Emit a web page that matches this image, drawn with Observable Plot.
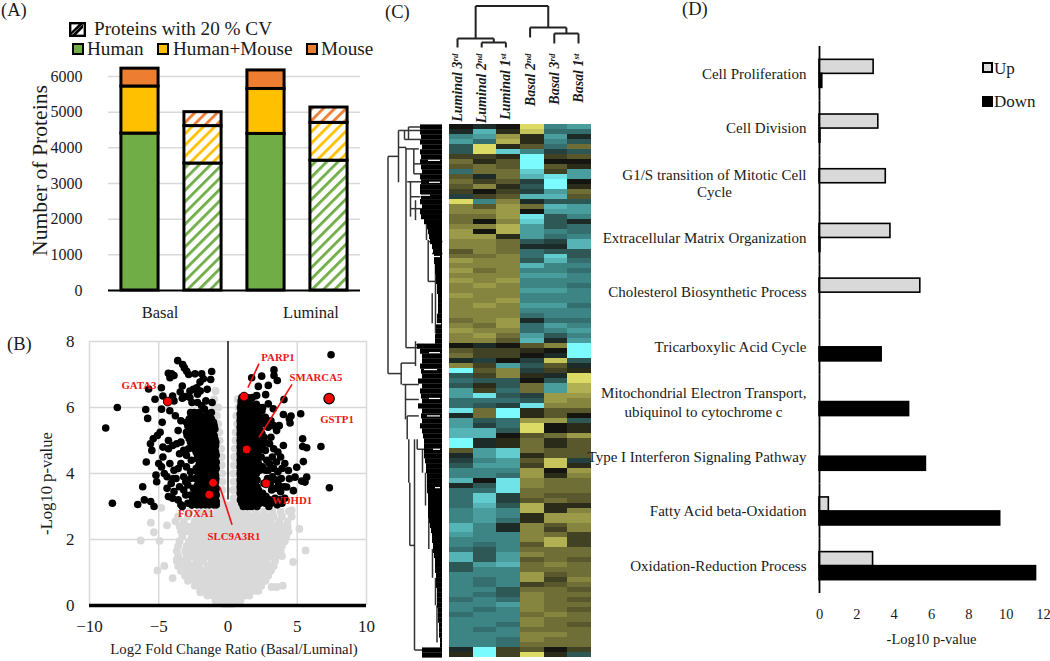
<!DOCTYPE html>
<html><head><meta charset="utf-8">
<script src="https://cdn.jsdelivr.net/npm/d3@7"></script>
<script src="https://cdn.jsdelivr.net/npm/@observablehq/plot@0.6"></script>
<style>
html,body{margin:0;padding:0;background:#fff}
#page{position:relative;width:1050px;height:661px;overflow:hidden;font-family:"Liberation Serif",serif;color:#1a1a1a}
#page svg.layer{position:absolute;left:0;top:0;max-width:none;background:transparent}
.lab{position:absolute;white-space:nowrap;line-height:1;transform:translateY(-50%)}
.sw{position:absolute;box-sizing:border-box;border:2.5px solid #000}
</style></head><body><div id="page"></div>
<script>
const FONT='"Liberation Serif",serif';
// ---------- Panel A ----------
const barNames=["Basal all","Basal CV","Luminal all","Luminal CV"];
const humanValues=[4400,3560,4390,3640];
const humanMouseValues=[1320,1050,1260,1060];
const mouseValues=[500,390,520,430];
const cvFlags=[false,true,false,true];
// ---------- Panel B ----------
const blackScatter=[[7.44,7.6],[6.71,4.82],[7.32,3.57],[-8.83,5.38],[-7.99,6],[-8.35,3.1],[-6.52,3.06],[-6.04,3.2],[-6.16,3.6],[-5.58,3.15],[-5.34,3],[-5.94,5.94],[-5.8,5.67],[-5.73,6.56],[-5.27,6.25],[-4.81,6.6],[-3.63,7.42],[-3.27,7.3],[-3.15,7.2],[-2.98,7.1],[-4.31,7.04],[-4.07,7.02],[-4.19,6.9],[-3.9,6.97],[-2.84,7],[-2.38,7.02],[-1.9,7.02],[-1.18,7.09],[-1.25,6.85],[-1.78,6.87],[-2.02,6.77],[-2.26,6.6],[-3.3,6.65],[-3.45,6.47],[-4,6.35],[-4.7,6.35],[-3.9,6.2],[-3.1,6.33],[-2.75,6.5],[-2.5,6.55],[-2.2,6.4],[-2.75,6.3],[-2,6.5],[-1.6,6.2],[-1.15,6.15],[-1.5,6.55],[-3.3,6.28],[-2.6,6.15],[-2.2,6.15],[-1.9,6.05],[-1.7,5.95],[-1.4,5.8],[-1.35,5.65],[-4.8,5.95],[-4.2,5.9],[-3.8,5.75],[-4.75,5.55],[-3.4,5.6],[-3.6,5.3],[-4.9,5.25],[-5.1,5.15],[-5.4,5.05],[-5.6,4.9],[-5.5,4.7],[-4.3,5],[-4.7,4.8],[-4.3,4.75],[-4,4.85],[-3.7,4.9],[-3.4,4.95],[-3.5,4.6],[-3,4.55],[-4.7,4.5],[-5.9,4.35],[-5,4.3],[-4.8,4.2],[-5.2,3.95],[-5.15,3.75],[-4.6,4],[-4.4,3.9],[-4.2,4.3],[-3.9,4.1],[-3.6,4.15],[-3.4,4.3],[-3.2,3.9],[-3,4.2],[-2.7,4.05],[-4.1,3.7],[-4.4,3.55],[-3.9,3.45],[-3.5,3.6],[-3.2,3.5],[-2.9,3.65],[-4.3,3.3],[-4,3.25],[-3.6,3.2],[-3.4,3.05],[-3.3,3],[-2.9,3.1],[-2.6,3.05],[-3.05,3.35],[-2.7,3.35],[-2.5,3.55],[-2.7,3.85],[-2.65,4.4],[-2.85,4.75],[-3.2,4.7],[-3.75,3.85],[-3.05,3.75],[-2.55,3.2],[-3.95,3.85],
[3.32,7.14],[3.32,6.97],[3.56,6.82],[1.71,6.9],[2.43,6.95],[2.19,6.64],[2.91,6.67],[2.72,6.39],[2.07,6.36],[2.91,6.11],[4.04,6.24],[3.27,5.96],[4,5.79],[4.55,5.74],[4.43,5.66],[4.48,5.53],[5.25,5.81],[3.7,5.45],[3.51,5.3],[5.39,5.05],[5.39,4.82],[5.68,4.78],[4,4.85],[5.44,4.36],[4.96,4.19],[5.68,3.89],[5.32,3.77],[5.56,3.74],[4.84,3.89],[4.36,4.09],[4.43,3.84],[4.72,3.48],[4.24,3.59],[3,4.9],[3.3,4.75],[3.6,4.65],[2.8,4.4],[3.2,4.5],[3.5,4.35],[3.8,4.5],[4.1,4.3],[2.9,4.1],[3.3,4.15],[3.6,4.05],[3.9,4.15],[3.2,3.9],[3.5,3.8],[3.85,3.85],[3.15,3.5],[3.45,3.55],[3.8,3.45],[4.05,3.6],[3,3.2],[3.4,3.25],[3.75,3.2],[4.1,3.25],[2.6,3.7],[2.5,3.4],[3.1,5.1],[2.9,5.4],[2.7,5.7],[3.1,5.6],[2.5,6],[3.3,5.45],[2.85,3.85],[3.05,3.7],[3.65,3.65],[3.0,4.3],[2.65,4.95],[2.75,3.3],[3.55,3.05],[2.95,3.0]];
const blackRows=[[5.85,[-2.7,-2.45,-2.1,-1.2]],[5.75,[-2.65,-2.3,-1.95,-1.55]],[5.65,[-2.8,-2.5,-2.2,-1.9,-1.5,-1.2]],[5.55,[-3,-2.7,-2.35,-2.05,-1.7,-1.35,-1.05]],[5.45,[-2.9,-2.6,-2.3,-2,-1.6,-1.3,-1]],[5.35,[-2.85,-2.55,-2.2,-1.9,-1.55,-1.2,-.95]],[5.25,[-3,-2.7,-2.4,-2.1,-1.8,-1.45,-1.1]],[5.15,[-2.95,-2.6,-2.25,-1.95,-1.65,-1.3,-1]],[5.05,[-2.8,-2.5,-2.2,-1.9,-1.6,-1.25,-.95]],[4.95,[-2.7,-2.4,-2.05,-1.75,-1.45,-1.15,-.88]],[4.85,[-2.6,-2.3,-2,-1.7,-1.4,-1.1,-.9]],[4.75,[-2.45,-2.15,-1.85,-1.55,-1.25,-.95]],[4.65,[-2.3,-2,-1.7,-1.4,-1.15,-.9]],[4.55,[-2.2,-1.9,-1.6,-1.3,-1.05,-.85]],[4.45,[-2.2,-1.85,-1.55,-1.25,-.95]],[4.35,[-2.05,-1.7,-1.4,-1.1,-.85]],[4.25,[-2.1,-1.75,-1.45,-1.15,-.9]],[4.15,[-2.3,-1.95,-1.6,-1.3,-1,-.85]],[4.05,[-2.2,-1.85,-1.55,-1.25,-.95]],[3.95,[-2.15,-1.8,-1.5,-1.2,-.9]],[3.85,[-2.35,-2,-1.7,-1.4,-1.1,-.88]],[3.75,[-2.1,-1.8,-1.5,-1.2,-.9]],[3.65,[-2.2,-1.9,-1.6,-1.3,-.95]],[3.55,[-2.05,-1.75,-1.5,-1.2,-.85]],[3.45,[-2.3,-2,-1.7,-1.45,-1.15,-.9]],[3.35,[-2.15,-1.85,-1.6,-1.3,-1.05,-.85]],[3.25,[-2.4,-2.1,-1.8,-1.5,-1.2,-.92]],[3.15,[-2.5,-2.2,-1.9,-1.6,-1.3,-1,-.85]],[3.05,[-2.6,-2.25,-1.95,-1.65,-1.35,-1.05,-.85]],
[6.3,[1,1.4,1.75]],[6.2,[.95,1.2,1.55]],[6.1,[.95,1.3,1.65,2.05]],[6,[.9,1.15,1.45,1.85,2.25]],[5.9,[.95,1.25,1.6,2,2.45]],[5.8,[.88,1.1,1.4,1.75,2.15]],[5.7,[.9,1.2,1.55,1.9,2.3]],[5.6,[.88,1.05,1.4,1.75,2.15,2.6]],[5.5,[.9,1.25,1.6,2,2.45,2.8]],[5.4,[.88,1.1,1.4,1.75,2.15]],[5.3,[.9,1.2,1.55,1.95,2.35]],[5.2,[.88,1.05,1.35,1.7,2.05,2.45]],[5.1,[.9,1.2,1.5,1.85,2.2,2.6]],[5,[.88,1.05,1.35,1.7,2.1]],[4.9,[.9,1.2,1.5,1.9,2.3]],[4.8,[.88,1.05,1.35,1.7,2.05,2.5]],[4.7,[.9,1.15,1.5,1.85,2.25,2.7]],[4.6,[.88,1.05,1.35,1.7,2.1]],[4.5,[.9,1.2,1.55,1.9,2.4]],[4.4,[.88,1.05,1.35,1.7,2.05]],[4.3,[.9,1.2,1.5,1.85,2.2]],[4.2,[.88,1.05,1.35,1.7,2.1,2.5]],[4.1,[.9,1.2,1.55,1.9,2.3,2.7]],[4,[.88,1.05,1.35,1.7,2.05]],[3.9,[.9,1.2,1.5,1.85]],[3.8,[.88,1.05,1.35,1.7,2.1]],[3.7,[.9,1.2,1.55,1.95]],[3.6,[.88,1.05,1.35,1.7,2.1]],[3.5,[.9,1.2,1.5,1.8,2.2]],[3.4,[.88,1.05,1.35,1.65,2]],[3.3,[.95,1.2,1.5,1.8,2.2,2.6]],[3.2,[.9,1.05,1.35,1.65,2,2.4]],[3.1,[1,1.3,1.6,1.9,2.3,2.7,3.1,3.5,3.9]],[3,[1.1,1.4,1.7,2.1]]];
const greyRows=[[.05,[-.35,-.1,.15,.35]],[.15,[-.9,-.55,-.2,.15,.5,.9]],[.3,[-1.5,-1.1,-.7,-.3,.1,.5,.9,1.25,1.55]],[.45,[-2,-1.6,-1.15,-.75,-.3,.15,.6,1.05,1.5,1.9,2.2]],[.6,[-2.4,-1.9,-1.4,-.9,-.4,.1,.6,1.1,1.6,2,2.4]],[.75,[-2.9,-2.35,-1.8,-1.3,-.8,-.3,.2,.7,1.2,1.7,2.2,2.7]],[.9,[-3.1,-2.6,-2.1,-1.6,-1.1,-.6,-.1,.4,.9,1.4,1.85,2.4,2.9]],[1.05,[-3.4,-2.8,-2.3,-1.8,-1.3,-.8,-.3,.2,.7,1.2,1.7,2.2,2.6,3.1]],[1.2,[-3.6,-3,-2.6,-2.1,-1.5,-1,-.5,0,.5,1,1.5,2,2.5,2.9,3.3]],[1.35,[-3.7,-3.3,-2.9,-2.3,-1.8,-1.2,-.7,-.2,.3,.8,1.3,1.8,2.3,2.8,3.4]],[1.5,[-3.6,-3,-2.5,-2,-1.5,-1,-.5,0,.5,1,1.5,2,2.5,3,3.5]],[1.65,[-3.7,-3.1,-2.6,-2.1,-1.6,-1.1,-.6,-.1,.4,.9,1.4,1.9,2.4,2.9,3.4,3.8]],[1.8,[-3.6,-3,-2.5,-2,-1.5,-1,-.5,0,.5,1,1.5,2,2.5,3,3.5,3.9]],[1.95,[-3.5,-2.8,-2.3,-1.8,-1.3,-.8,-.3,.2,.7,1.2,1.7,2.2,2.7,3.2,3.6,4.1]],[2.1,[-3.3,-2.6,-2.1,-1.6,-1.1,-.6,-.1,.4,.9,1.4,1.9,2.4,2.9,3.4,3.8,4.2]],[2.25,[-3.4,-2.9,-2.4,-1.9,-1.4,-.9,-.4,.1,.6,1.1,1.6,2.1,2.6,3.1,3.6,4.1]],[2.4,[-3.5,-3,-2.6,-2.1,-1.6,-1.1,-.6,-.1,.4,.9,1.4,1.9,2.4,2.9,3.4,3.9,4.3]],[2.55,[-3.2,-2.4,-1.9,-1.4,-.9,-.4,.1,.6,1.1,1.6,2.1,2.6,3.1,3.7,4.3]],[2.7,[-3.6,-2.9,-2.2,-1.7,-1.2,-.7,-.2,.3,.8,1.3,1.8,2.3,2.8,3.3,3.9,4.6]],[2.85,[-2.8,-2,-1.4,-.8,-.4,.1,.5,.9,1.4,2,2.6,3.2,3.8,4.4]],
[3.05,[-.75,-.5,-.2,.2,.55,.8]],[3.25,[-.7,-.45,.4,.7]],[3.5,[-.65,-.4,.35,.68]],[3.75,[-.7,-.4,.4,.7]],[4,[-.7,-.42,.38,.72]],[4.25,[-.72,-.45,.42,.72]],[4.5,[-.7,-.45,.45,.7]],[4.75,[-.68,-.5,.5,.75]],[5,[-.6,.55,.75]],[5.25,[-.62,.55,.7]],[5.5,[-.7,.65]],[5.75,[-.8,.6,.8]],[6,[-.9,-.7,.75]],[6.25,[-1,.7]],[6.5,[-.9]]];
const greyOutliers=[[-6.3,1.97],[-5.35,2.22],[-5.57,2.51],[-4.82,2.96],[-4.94,1.96],[-4.4,2.43],[-5.1,1.06],[-4.6,1.2],[-4,.83],[4.7,1.32],[5.6,1.67],[5.15,2.32],[4.37,2.24],[4.6,2.88],[3.5,.56],[3.95,.6],[3.15,.56],[2.8,.91],[-3.3,2.3],[-3.8,2.55],[-3.7,1.4],[-3.2,1.1],[3.9,1.5],[3.6,1.85],[4.1,2],[-2.6,.8],[-2.2,.65],[-2,.4],[2.4,.7],[2.1,.45]];
const geneNames=["GATA3","PARP1","SMARCA5","GSTP1","WDHD1","FOXA1","SLC9A3R1"];
const geneX=[-4.35,1.16,1.35,7.3,2.75,-1.35,-1.08];
const geneY=[6.18,6.33,4.73,6.27,3.7,3.36,3.72];
const geneLabelX=[-6.43,3.61,6.35,7.87,4.62,-2.31,.43];
const geneLabelY=[6.67,7.52,6.91,5.64,3.18,2.79,2.09];
const geneLeaders=[[2.24,7.33,1.44,6.6],[4.62,6.7,2.24,5.09],[-.58,3.58,.29,2.45]];
// ---------- Panel C ----------
const sampleNames=["Luminal 3rd","Luminal 2nd","Luminal 1st","Basal 2nd","Basal 3rd","Basal 1st"];
const heatRows=[[0,-1,0,9,-5,-6],[-1,-7,1,8,-4,-4],[-5,-6,6,1,-6,-1],[-6,-4,7,1,-5,-3],[-3,9,1,3,-4,4],[-3,9,-8,-5,-2,-3],[2,2,1,-10,2,3],[4,1,3,-10,0,0],[3,4,3,-10,3,1],[-4,4,4,-8,2,-6],[3,-1,4,-7,-9,-6],[4,2,3,-2,-10,0],[3,5,1,-3,-10,1],[2,0,2,-2,-6,4],[-2,2,3,-7,-7,3],[9,-5,5,-1,-3,-3],[5,3,6,4,-7,-6],[5,5,6,0,-6,-6],[4,4,6,-9,-3,-5],
[4,0,5,-8,-3,-1],[5,5,7,-6,-3,-4],[6,0,7,-6,-5,-4],[6,6,1,-6,-4,-5],[5,5,4,-3,-2,-7],[5,5,4,-1,-1,-7],[3,5,4,-4,-3,-3],[4,4,5,-4,-8,-3],[6,5,5,-3,-7,-4],[5,5,5,-7,-5,-5],[6,4,5,-5,-5,-4],[5,5,5,-6,-6,-5],[6,5,6,-5,-5,-5],[5,6,5,-5,-5,-4],[5,5,5,-6,-6,-5],[6,5,5,-5,-5,-5],[5,5,6,-5,-5,-5],[5,6,5,-6,-6,-4],[5,5,5,-5,-5,-5],[5,5,5,-4,-5,-5],[4,5,6,-1,-4,-4],[5,4,6,-4,-6,-5],[6,5,5,-4,-5,-6],[5,6,4,-6,-3,-5],[5,5,3,-7,-1,-6],[0,-1,0,3,5,-10],[3,2,2,1,0,-10],[4,2,2,0,-1,-10],[-1,-2,0,-2,8,-3],[5,2,-6,-3,3,-1],[-10,3,5,-2,2,1],[-3,2,5,1,-1,9],[-4,-3,-3,0,-3,9],[-3,1,-3,4,-6,7],[-6,2,-4,4,-6,7],[-6,-9,-3,-2,6,6],[-4,-4,-4,-3,6,5],[-4,-3,-2,-9,5,5],[-9,4,-10,1,3,3],[-1,4,-10,1,3,0],[-6,-3,-4,6,6,-3],[-6,-2,-4,9,0,1],[-7,-7,-3,9,0,1],[-7,-7,0,3,4,6],
[-10,-1,1,4,1,3],[-10,-1,1,4,1,3],[3,-6,-8,4,3,3],[-1,-6,-8,1,3,3],[-2,-5,-6,3,8,-2],[-3,-6,-6,2,8,1],[-5,-5,-5,6,0,6],[-5,-5,-4,6,1,5],[-7,0,-9,5,4,4],[-1,-3,-9,5,4,4],[-4,-4,-9,4,4,4],[-4,-8,-2,4,3,3],[-4,-8,-2,3,4,3],[-4,-7,-3,7,1,1],[-5,-6,-5,7,1,5],[-5,-6,-5,1,6,6],[-5,-6,-4,1,6,6],[-7,-5,-1,5,3,5],[-7,-5,-1,5,2,5],[-6,-5,-5,5,4,2],[-5,-5,-5,5,7,2],[-5,-4,-5,3,7,2],[-4,-3,-5,4,4,4],[-7,-3,-6,5,4,4],[-7,-3,-6,3,4,3],[-3,-6,-7,4,5,4],[-3,-5,-5,4,4,4],[-5,-5,-5,6,3,4],[-5,-4,-5,6,2,5],[-5,-4,-5,2,3,4],[-5,-5,-3,4,4,3],[-5,-4,-3,5,4,4],[-4,-5,-4,5,4,3],[-5,-5,-6,5,4,4],[-5,-4,-5,5,4,3],[-4,-5,-5,4,5,4],[-5,-5,-5,5,4,4],[-5,-5,-4,5,4,3],[-5,-4,-5,4,4,4],[-5,-5,-5,5,5,4],[-5,-5,-4,5,4,4],[-5,-5,-4,4,4,4],[-1,-10,2,3,0,2],[1,-10,2,9,1,-3]];
const topMerges=[[1,2,5,0,0],[0,1.5,9,0,5],[4,5,14,4,4],[3,4.5,20,10,14],[.75,3.75,41.5,9,20]];
const leafDepth=[22,22,21,22,20,22,21,22,21,20,22,21,22,22,21,22,20,22,21,18,15,14,13,12,10,9,8,8,7,7,6,6,5,5,4,4,4,4,5,5,6,6,7,7,25,22,20,20,22,21,20,24,20,22,21,20,24,20,21,20,22,20,19,18,18,18,18,17,16,16,15,15,15,15,14,14,14,14,14,13,12,11,10,10,9,9,8,7,7,7,6,6,6,5,5,5,5,4,4,4,3,3,3,2,2,20,20];
const leftBranches=[[54.5,6.4,54.5,50],[54.5,6.4,44,6.4],[54.5,50,41,50],[44,1.2,44,11.6],[44,1.2,22,1.2],[34,.5,34,3],[34,.5,22,.5],[38,1.2,38,3],[38,3,22,3],[44,4.6,36.5,4.6],[36.5,4.6,36.5,44.8],[36.5,44.8,25,44.8],[37,4.9,23.7,4.9],[28.7,4.9,28.7,9.9],[28.7,7.9,22,7.9],[28.7,9.9,20.3,9.9],[35.3,11.5,20.3,11.5],[32,11.5,32,18.5],[32,14.5,22,14.5],[32,16.9,18.7,16.9],[27,15.2,27,19.2],[16,19.2,16,23.2],[14.3,23.2,14.3,31.5],[10.3,33.9,10.3,39.9],[7,25.9,7,41.9],[14.3,23.5,0,23.5],[10.5,25.9,0,25.9],[14.3,31.5,7,31.5],[41.3,47.9,41.3,52.2],[41.3,47.9,27,47.9],[40.3,52.2,23.7,52.2],[37,52.2,37,59.2],[37,55.2,23.7,55.2],[35.3,58.5,35.3,63.2],[35.3,58.5,23.7,58.5],[27,43.5,27,48.5],[27,44.2,18,44.2],[33.7,63.2,33.7,71.9],[32.7,71.9,32.7,84.5],[32.7,84.5,27.7,84.5],[28,63.2,28,105.5],[28,105.5,20.3,105.5],[25.3,63.2,25.3,65.2],[25.3,65.2,15,65.2],[20,65.2,20,69.9],[17,69.9,17,76.5],[13.7,76.5,13.7,85.2],[10,85.2,10,91],[7,91,7,96.5],[5.5,96.5,5.5,104]];
const leafGaps=[[14,7.2,2],[13,11.6,2],[24,14.2,12],[13,26.5,2],[6,40,1],[13,45.8,2],[18,49.2,5],[13,55,2],[15,58.5,2],[9,65.2,2],[7,72.9,2]];
// ---------- Panel D ----------
const pathways=["Cell Proliferation","Cell Division","G1/S transition of Mitotic Cell","Extracellular Matrix Organization","Cholesterol Biosynthetic Process","Tricarboxylic Acid Cycle","Mitochondrial Electron Transport,","Type I Interferon Signaling Pathway","Fatty Acid beta-Oxidation","Oxidation-Reduction Process"];
const upValues=[2.9,3.15,3.55,3.8,5.4,0,0,0,.5,2.87];
const downValues=[.15,.05,0,.05,0,3.33,4.8,5.7,9.68,11.6];

// ---------- helpers ----------
const page=document.getElementById("page");
const add=p=>{p.classList.add("layer");page.append(p);return p;};
const style=(size)=>({fontFamily:FONT,fontSize:size+"px",background:"transparent",color:"#1a1a1a"});
const label=(t,x,y,size,extra={})=>{const d=document.createElement("div");d.className="lab";d.textContent=t;d.style.left=x+"px";d.style.top=y+"px";d.style.fontSize=size+"px";Object.assign(d.style,extra);page.append(d);return d;};
const swatch=(x,y,w,h,bg,bw)=>{const d=document.createElement("div");d.className="sw";Object.assign(d.style,{left:x+"px",top:y+"px",width:w+"px",height:h+"px",background:bg});if(bw)d.style.borderWidth=bw+"px";page.append(d);};

// ---------- A ----------
const segColors={Human:"#70ad47","Human+Mouse":"#ffc000",Mouse:"#ed7d31"};
const stackRows=barNames.flatMap((bar,i)=>[
 {bar,part:"Human",v:humanValues[i],cv:cvFlags[i]},
 {bar,part:"Human+Mouse",v:humanMouseValues[i],cv:cvFlags[i]},
 {bar,part:"Mouse",v:mouseValues[i],cv:cvFlags[i]}]);
const hatchDefs=()=>{const defs=d3.create("svg:defs");
 Object.entries(segColors).forEach(([k,c])=>{
  const p=defs.append("pattern").attr("id","hatch-"+k.replace("+","")).attr("patternUnits","userSpaceOnUse").attr("width",8).attr("height",8).attr("patternTransform","rotate(45)");
  p.append("rect").attr("width",8).attr("height",8).attr("fill","#fff");
  p.append("rect").attr("width",2.8).attr("height",8).attr("fill",c);});
 return defs.node();};
add(Plot.plot({width:1050,height:661,marginLeft:108,marginRight:690,marginTop:76,marginBottom:371,style:style(16),
 x:{domain:barNames,paddingInner:.41,paddingOuter:.205,round:false,axis:null},
 y:{domain:[0,6000],ticks:[0,1000,2000,3000,4000,5000,6000],tickSize:0,tickPadding:26,label:null,tickFormat:d=>String(d)},
 marks:[hatchDefs,
  Plot.ruleY([1000,2000,3000,4000,5000,6000],{stroke:"#d9d9d9",strokeWidth:1.5}),
  Plot.barY(stackRows,Plot.stackY({x:"bar",y:"v",order:null,
    fill:d=>d.cv?`url(#hatch-${d.part.replace("+","")})`:segColors[d.part],stroke:"#000",strokeWidth:3})),
  Plot.ruleY([0],{stroke:"#000",strokeWidth:2}),
  Plot.text(["Number of Proteins"],{frameAnchor:"left",textAnchor:"middle",rotate:-90,dx:-68,dy:-13,fontSize:21.7}),
  Plot.text(["Basal"],{x:()=>"Basal all",frameAnchor:"bottom",dx:20,dy:27,fontSize:16.5}),
  Plot.text(["Luminal"],{x:()=>"Luminal all",frameAnchor:"bottom",dx:45,dy:27,fontSize:16.5})
 ]}));
label("(A)",1,10,18.5);
// legend A
const cvSw=document.createElementNS("http://www.w3.org/2000/svg","svg");
cvSw.setAttribute("width",17);cvSw.setAttribute("height",15);
cvSw.style.cssText="position:absolute;left:69px;top:22px";
cvSw.innerHTML='<rect x="1.2" y="1.2" width="14.6" height="12.6" fill="#fff" stroke="#000" stroke-width="2.4"/><path d="M3 13 L14 2 L14 6 L7 13Z" fill="#000"/><path d="M2 13 L2 10 L10 2 L14 2 Z" fill="#000"/>';
page.append(cvSw);
label("Proteins with 20 % CV",94,29,19.2);
swatch(72,43,12,12,"#70ad47");label("Human",87,49,19.2);
swatch(157,43,12,12,"#ffc000");label("Human+Mouse",173,49,19.2);
swatch(306,43,12,12,"#ed7d31");label("Mouse",321,49,19.2);

// ---------- B ----------
const expand=rows=>rows.flatMap(([y,xs])=>xs.map(x=>[x,y]));
const greyAll=expand(greyRows).concat(greyOutliers);
const blackAll=blackScatter.concat(expand(blackRows));
const genes=geneNames.map((g,i)=>({g,x:geneX[i],y:geneY[i],lx:geneLabelX[i],ly:geneLabelY[i]}));
const mainGenes=genes.filter(d=>d.g!=="GSTP1"),topGene=genes.filter(d=>d.g==="GSTP1");
add(Plot.plot({width:1050,height:661,marginLeft:89,marginRight:684,marginTop:341,marginBottom:56,style:style(17),
 x:{domain:[-10,10],ticks:[-10,-5,0,5,10],tickSize:0,tickPadding:14,label:null},
 y:{domain:[0,8],ticks:[0,2,4,6,8],tickSize:0,tickPadding:15,label:null},
 marks:[
  Plot.ruleX([-10,-5,5,10],{stroke:"#d9d9d9",strokeWidth:1.5}),
  Plot.ruleY([2,4,6,8],{stroke:"#d9d9d9",strokeWidth:1.5}),
  Plot.dot(greyAll,{x:d=>d[0],y:d=>d[1],r:3.9,fill:"#d9d9d9"}),
  Plot.ruleX([0],{y1:3.2,y2:8,stroke:"#111",strokeWidth:1.5}),
  Plot.dot(blackAll,{x:d=>d[0],y:d=>d[1],r:3.8,fill:"#000"}),
  Plot.ruleY([0],{stroke:"#000",strokeWidth:3.5}),
  Plot.link(geneLeaders,{x1:d=>d[0],y1:d=>d[1],x2:d=>d[2],y2:d=>d[3],stroke:"#f01010",strokeWidth:1.6}),
  Plot.dot(mainGenes,{x:"x",y:"y",r:4.4,fill:"#ff0000",stroke:"#000",strokeWidth:1}),
  Plot.dot(topGene,{x:"x",y:"y",r:5.2,fill:"#ff0000",stroke:"#000",strokeWidth:1.2}),
  Plot.text(genes,{x:"lx",y:"ly",text:"g",fill:"#f01515",fontWeight:"bold",fontSize:10.8}),
  Plot.text(["-Log10 p-value"],{frameAnchor:"left",textAnchor:"middle",rotate:-90,dx:-43,dy:10,fontSize:16.6}),
  Plot.text(["Log2 Fold Change Ratio (Basal/Luminal)"],{frameAnchor:"bottom",dx:6,dy:48,fontSize:14.8,wordSpacing:"1.5px"})
 ]}));
label("(B)",7,344,18.5);

// ---------- C ----------
const heatCells=heatRows.flatMap((row,r)=>row.map((v,c)=>({s:sampleNames[c],r,v})));
add(Plot.plot({width:1050,height:661,marginLeft:449,marginRight:459,marginTop:124,marginBottom:4,style:style(10),
 x:{domain:sampleNames,padding:0,round:false,axis:null},
 y:{domain:d3.range(heatRows.length),padding:0,round:false,axis:null},
 color:{type:"linear",domain:[-10,-5,0,5,10],range:["#7cfbff","#3d8585","#141410","#85853f","#f2f06e"]},
 marks:[Plot.cell(heatCells,{x:"s",y:"r",fill:"v",inset:0,shapeRendering:"crispEdges"})]}));
// top dendrogram
const topSegs=topMerges.flatMap(([a,b,h,ha,hb])=>[[a,h,b,h],[a,ha,a,h],[b,hb,b,h]]);
const topPlot=add(Plot.plot({width:1050,height:661,marginLeft:457,marginRight:472,marginTop:5,marginBottom:614,style:style(14),
 x:{domain:[0,5],axis:null},
 y:{domain:[0,42],axis:null},
 marks:[
  Plot.link(topSegs,{x1:d=>d[0],y1:d=>d[1],x2:d=>d[2],y2:d=>d[3],stroke:"#222",strokeWidth:2}),
  Plot.text(sampleNames,{x:(d,i)=>i,y:0,text:d=>d,rotate:-90,textAnchor:"end",dy:6,fontWeight:"bold",fontStyle:"italic",fontSize:14})
 ]}));
d3.select(topPlot).selectAll("text").each(function(){
  const t=this.textContent,m=t.match(/^(.*\d)(st|nd|rd)$/); if(!m) return;
  this.textContent="";
  const a=document.createElementNS("http://www.w3.org/2000/svg","tspan");a.textContent=m[1];
  const b=document.createElementNS("http://www.w3.org/2000/svg","tspan");b.textContent=m[2];
  b.setAttribute("dy","-4");b.setAttribute("font-size","9");
  this.append(a,b);
});
// left dendrogram
add(Plot.plot({width:1050,height:661,marginLeft:387,marginRight:608,marginTop:124,marginBottom:4,style:style(10),
 x:{domain:[55,0],axis:null},
 y:{domain:[0,107],reverse:true,axis:null},
 marks:[
  Plot.link(leftBranches,{x1:d=>d[0],y1:d=>d[1],x2:d=>d[2],y2:d=>d[3],stroke:"#333",strokeWidth:1.5}),
  Plot.ruleY(leafDepth,{y:(d,i)=>i+.5,x1:d=>d,x2:0,stroke:"#000",strokeWidth:5.2}),
  Plot.ruleY(leafGaps,{y:d=>d[1],x1:d=>d[0],x2:d=>d[2],stroke:"#fff",strokeWidth:1.2})
 ]}));
label("(C)",385,12,18.5);

// ---------- D ----------
const sideRows=pathways.flatMap((c,i)=>[{c,s:"Up",v:upValues[i]},{c,s:"Down",v:downValues[i]}]).filter(d=>d.v>0);
const singleLine=pathways.filter(c=>!/^G1|^Mito/.test(c));
add(Plot.plot({width:1050,height:661,marginLeft:819,marginRight:7,marginTop:46,marginBottom:68,style:style(14.5),
 x:{domain:[0,12],ticks:[0,2,4,6,8,10,12],tickSize:0,tickPadding:15,label:"-Log10 p-value",labelAnchor:"center",labelArrow:"none",labelOffset:50,tickFormat:d=>String(d)},
 y:{domain:["Up","Down"],paddingInner:0,paddingOuter:.95,round:false,axis:null},
 fy:{domain:pathways,padding:0,round:false,axis:null},
 marks:[
  Plot.barX(sideRows,{fy:"c",y:"s",x:"v",fill:d=>d.s==="Up"?"#d9d9d9":"#000",stroke:d=>"#000",strokeWidth:1.6}),
  Plot.ruleX([0],{stroke:"#000",strokeWidth:1.8}),
  Plot.text(singleLine,{fy:d=>d,x:0,text:d=>d,textAnchor:"end",dx:-13,fontSize:15}),
  Plot.text(["G1/S transition of Mitotic Cell"],{fy:d=>d,x:0,text:d=>d,textAnchor:"end",dx:-13,dy:-8,fontSize:15}),
  Plot.text(["Mitochondrial Electron Transport,"],{fy:d=>d,x:0,text:d=>d,textAnchor:"end",dx:-13,dy:-9,fontSize:15}),
  Plot.text([{c:"G1/S transition of Mitotic Cell",t:"Cycle"}],{fy:"c",x:0,text:"t",dx:-105,dy:9,fontSize:15}),
  Plot.text([{c:"Mitochondrial Electron Transport,",t:"ubiquinol to cytochrome c"}],{fy:"c",x:0,text:"t",dx:-116,dy:10,fontSize:15})
 ]}));
label("(D)",682,9,18.5);
swatch(982,62,11,11,"#d9d9d9",2);label("Up",994,68,17);
swatch(982,96,11,11,"#000",2);label("Down",994,101,17);
</script></body></html>
